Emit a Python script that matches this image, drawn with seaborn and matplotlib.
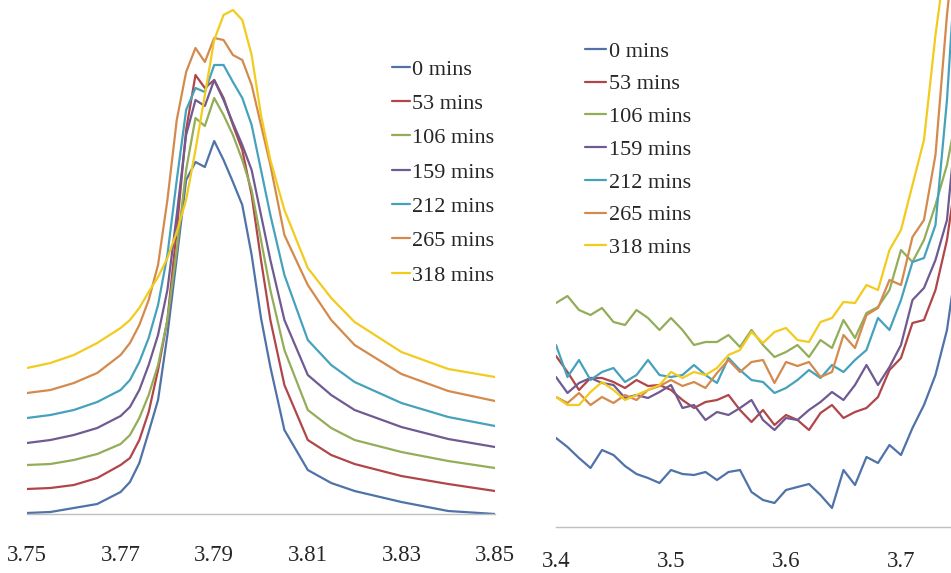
import matplotlib
matplotlib.use("Agg")
import matplotlib.pyplot as plt
import pandas as pd
import seaborn as sns

# time labels and line colours (Excel-like palette)
times = ["0 mins", "53 mins", "106 mins", "159 mins", "212 mins", "265 mins", "318 mins"]
colors = ["#4F72A8", "#B0464A", "#93AD58", "#6F5A92", "#46A2BC", "#D48A4C", "#F2CB1D"]

# left panel: peak region (ppm, intensity a.u.)
left_ppm = [3.75, 3.755, 3.76, 3.765, 3.77, 3.772, 3.774, 3.776, 3.778, 3.780,
            3.782, 3.784, 3.786, 3.788, 3.790, 3.792, 3.794, 3.796, 3.798, 3.800,
            3.802, 3.805, 3.81, 3.815, 3.82, 3.83, 3.84, 3.85]
left_0 = [1, 2, 6, 10, 22, 32, 51, 82, 114, 179, 256, 334, 352, 347, 373, 354, 332, 309,
          259, 196, 147, 84, 44, 31, 23, 12, 3, 0]
left_53 = [25, 26, 29, 36, 49, 56, 74, 102, 144, 194, 284, 384, 439, 426, 434, 416, 389,
           364, 319, 254, 194, 129, 74, 59, 50, 38, 30, 23]
left_106 = [49, 50, 54, 60, 70, 79, 96, 119, 149, 194, 264, 344, 396, 388, 416, 399, 379,
            354, 324, 274, 224, 164, 104, 86, 74, 62, 53, 46]
left_159 = [71, 74, 79, 86, 98, 107, 124, 149, 179, 224, 299, 379, 414, 408, 434, 414, 391,
            369, 344, 299, 254, 194, 139, 119, 104, 87, 75, 67]
left_212 = [96, 99, 104, 112, 124, 134, 152, 176, 209, 259, 334, 404, 426, 422, 449, 449,
            432, 416, 389, 344, 299, 239, 174, 149, 132, 111, 97, 88]
left_265 = [121, 124, 131, 141, 159, 171, 189, 214, 249, 314, 394, 442, 466, 452, 476, 474,
            459, 454, 429, 389, 349, 279, 229, 194, 169, 140, 123, 113]
left_318 = [146, 151, 159, 171, 186, 194, 206, 222, 237, 256, 282, 314, 364, 419, 474, 499,
            504, 494, 459, 399, 354, 304, 246, 216, 192, 162, 145, 137]

# right panel: baseline region (ppm, intensity a.u.)
right_ppm = [3.40, 3.41, 3.42, 3.43, 3.44, 3.45, 3.46, 3.47, 3.48, 3.49, 3.50, 3.51,
             3.52, 3.53, 3.54, 3.55, 3.56, 3.57, 3.58, 3.59, 3.60, 3.61, 3.62, 3.63,
             3.64, 3.65, 3.66, 3.67, 3.68, 3.69, 3.70, 3.71, 3.72, 3.73, 3.74, 3.745]
right_0 = [89, 80, 69, 59, 77, 72, 61, 53, 49, 44, 57, 53, 52, 55, 47, 55, 57, 35, 27, 24,
           37, 40, 43, 32, 19, 57, 42, 70, 64, 82, 72, 99, 122, 152, 197, 237]
right_53 = [171, 155, 137, 149, 149, 145, 139, 147, 141, 142, 137, 127, 119, 125, 127, 132,
            117, 105, 117, 102, 112, 107, 97, 114, 122, 109, 115, 119, 130, 157, 169, 204,
            207, 237, 287, 327]
right_106 = [224, 231, 217, 212, 219, 205, 202, 217, 209, 197, 209, 197, 182, 185, 185, 192,
             180, 197, 182, 170, 175, 182, 170, 187, 179, 207, 189, 214, 220, 237, 277, 265,
             287, 322, 362, 392]
right_159 = [150, 134, 144, 149, 144, 142, 129, 132, 129, 135, 142, 119, 122, 107, 115, 112,
             119, 127, 107, 97, 109, 107, 117, 125, 135, 127, 142, 162, 142, 160, 182, 227,
             239, 267, 307, 367]
right_212 = [182, 150, 167, 147, 155, 159, 145, 152, 167, 152, 150, 152, 162, 152, 144, 169,
             157, 147, 145, 134, 139, 147, 157, 149, 162, 155, 167, 177, 209, 197, 227, 265,
             269, 302, 427, 517]
right_265 = [130, 124, 134, 122, 130, 124, 132, 127, 137, 141, 147, 141, 145, 139, 154, 167,
             155, 165, 167, 144, 165, 161, 165, 150, 155, 192, 179, 212, 219, 247, 242, 290,
             307, 372, 512, 567]
right_318 = [130, 122, 122, 135, 145, 137, 127, 132, 137, 142, 155, 149, 155, 152, 159, 172,
             177, 195, 184, 195, 199, 187, 185, 205, 209, 225, 224, 242, 237, 277, 297, 342,
             387, 492, 577, 647]


def long_frame(ppm, series):
    """Stack the per-time lists into one long table for seaborn."""
    parts = []
    for label, vals in zip(times, series):
        parts.append(pd.DataFrame({"ppm": ppm, "intensity": vals, "time": label}))
    return pd.concat(parts, ignore_index=True)


df_left = long_frame(left_ppm, [left_0, left_53, left_106, left_159, left_212, left_265, left_318])
df_right = long_frame(right_ppm, [right_0, right_53, right_106, right_159, right_212, right_265, right_318])

sns.set_style("white")
plt.rcParams["font.family"] = ["Liberation Serif", "DejaVu Serif"]

fig = plt.figure(figsize=(9.51, 5.73), dpi=100)
ax1 = fig.add_axes([27 / 951, 1 - 514 / 573, 468 / 951, 514 / 573])
ax2 = fig.add_axes([556 / 951, 1 - 527 / 573, 395 / 951, 527 / 573])
palette = dict(zip(times, colors))

sns.lineplot(data=df_left, x="ppm", y="intensity", hue="time", hue_order=times,
             palette=palette, estimator=None, linewidth=1.6, ax=ax1)
sns.lineplot(data=df_right, x="ppm", y="intensity", hue="time", hue_order=times,
             palette=palette, estimator=None, linewidth=1.6, ax=ax2)

# left axis: only a grey baseline, no tick marks
ax1.set_xlim(3.75, 3.85)
ax1.set_ylim(0, 514)
ax1.set_xticks([3.75, 3.77, 3.79, 3.81, 3.83, 3.85])
ax1.set_xticklabels(["3.75", "3.77", "3.79", "3.81", "3.83", "3.85"])
ax1.tick_params(axis="x", length=0, pad=22, labelsize=16.5)
ax1.set_yticks([])

# right axis: grey baseline with downward ticks
ax2.set_xlim(3.4, 3.7435)
ax2.set_ylim(0, 527)
ax2.set_xticks([3.4, 3.5, 3.6, 3.7])
ax2.set_xticklabels(["3.4", "3.5", "3.6", "3.7"])
ax2.tick_params(axis="x", length=6, width=1, color="#BFBFBF", direction="out", pad=11.5, labelsize=16.5)
ax2.set_yticks([])

for ax in (ax1, ax2):
    ax.set_xlabel("")
    ax.set_ylabel("")
    ax.patch.set_alpha(0)
    for side in ("left", "right", "top"):
        ax.spines[side].set_visible(False)
    ax.spines["bottom"].set_color("#BFBFBF")
    ax.spines["bottom"].set_linewidth(1)

h1, l1 = ax1.get_legend_handles_labels()
ax1.legend(h1, l1, frameon=False, loc="upper left", bbox_to_anchor=(392 / 951, 1 - 59 / 573),
           bbox_transform=fig.transFigure, borderpad=0, borderaxespad=0, fontsize=16,
           handlelength=0.8, handletextpad=0.1, labelspacing=0.62)
h2, l2 = ax2.get_legend_handles_labels()
ax2.legend(h2, l2, frameon=False, loc="upper left", bbox_to_anchor=(585 / 951, 1 - 41 / 573),
           bbox_transform=fig.transFigure, borderpad=0, borderaxespad=0, fontsize=16,
           handlelength=0.95, handletextpad=0.15, labelspacing=0.55)

fig.savefig("out.png", dpi=100)
